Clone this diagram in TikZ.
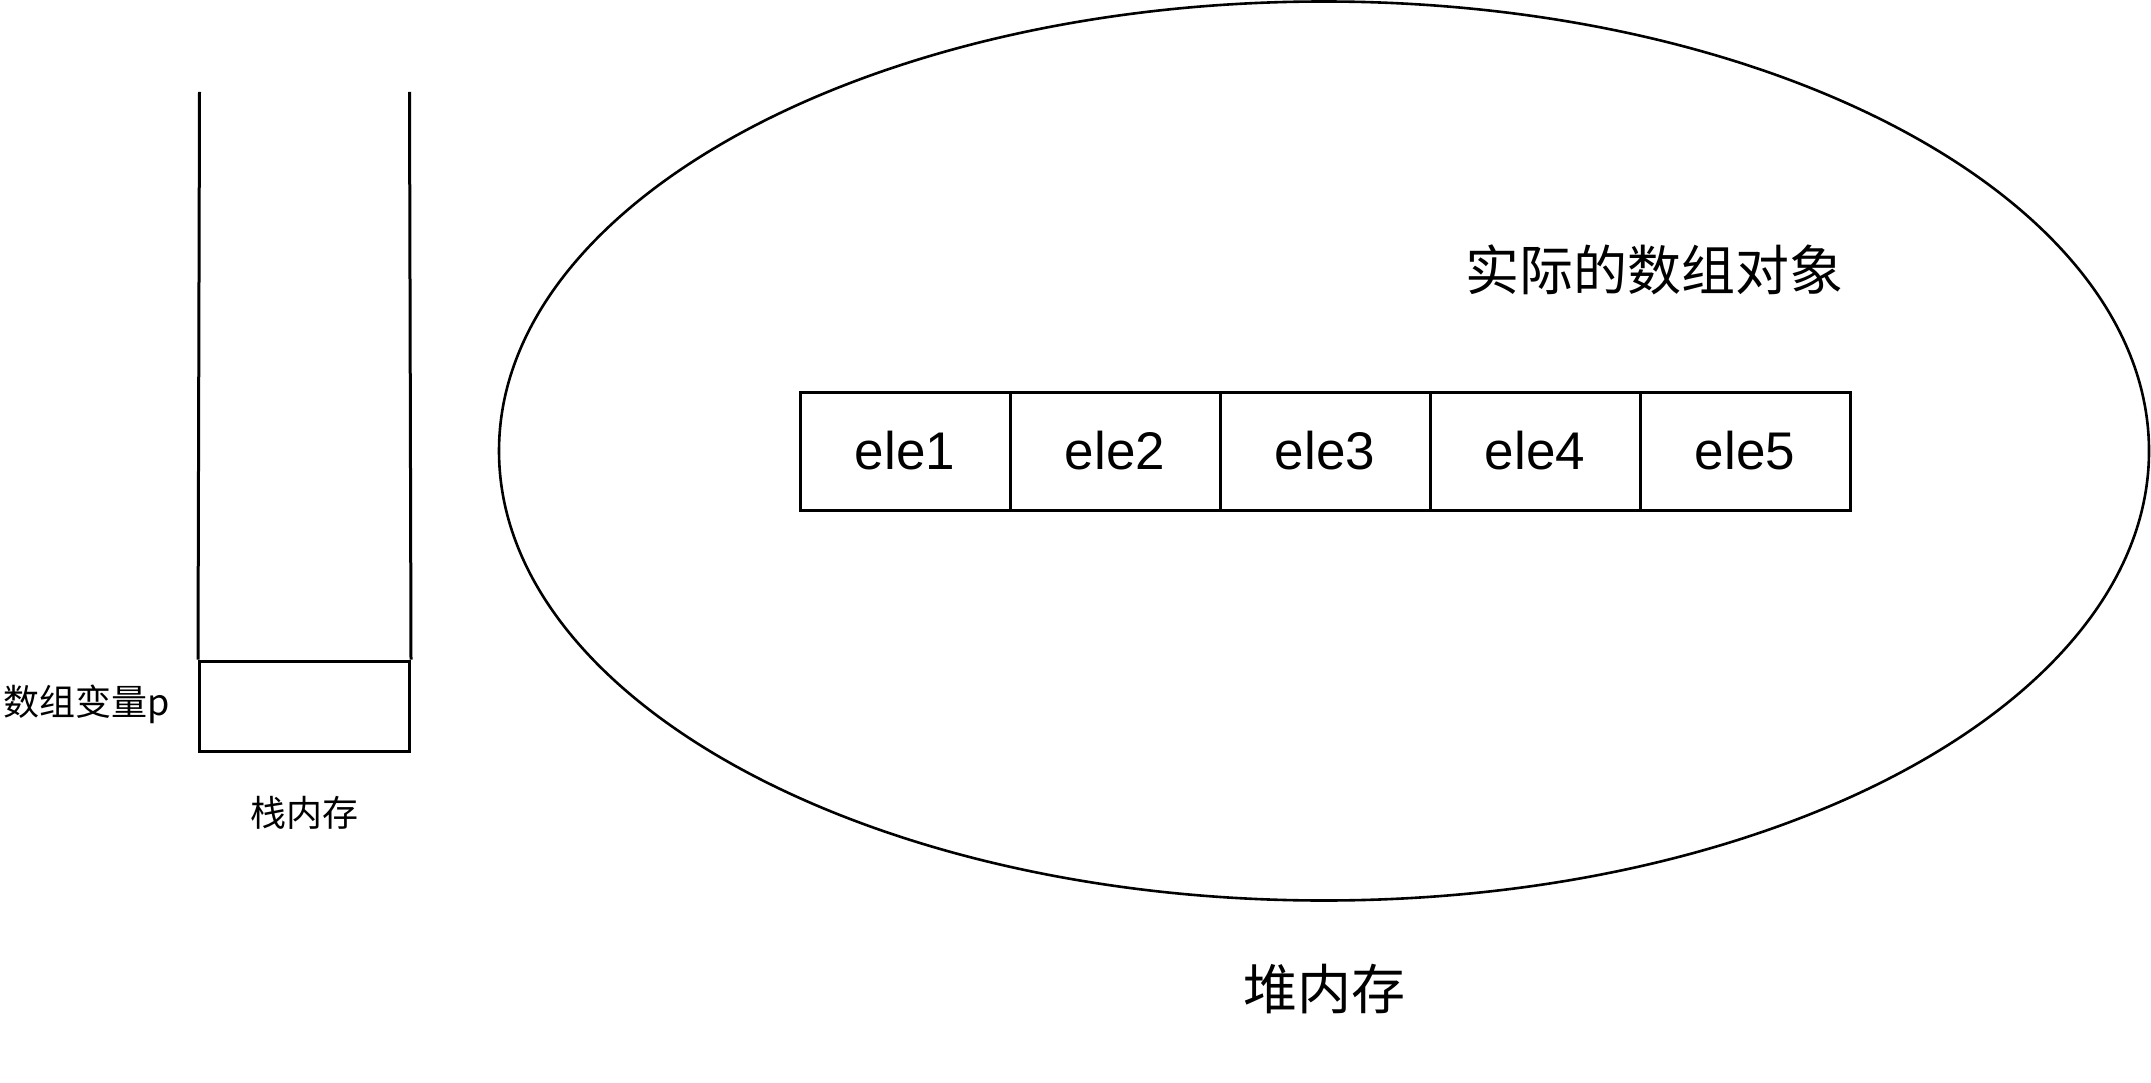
\documentclass[tikz,border=0pt]{standalone}
\usepackage{fontspec}
\setmainfont{Liberation Sans}
\newfontfamily\cjk{Noto Sans CJK SC}
\usetikzlibrary{shapes.geometric}
\begin{document}
\begin{tikzpicture}[x=1pt,y=-1pt,
  line width=3pt,
  cell/.style={draw, rectangle, inner sep=0pt, minimum width=210pt, minimum height=118pt,
    font=\fontsize{53pt}{58pt}\selectfont},
  smalltxt/.style={inner sep=0pt, font=\cjk\fontsize{36pt}{40pt}\selectfont},
  bigtxt/.style={inner sep=0pt, font=\cjk\fontsize{54pt}{60pt}\selectfont}]
\path[use as bounding box] (0,0) rectangle (2151,1083);
% heap ellipse
\node[draw, ellipse, line width=2.6pt, inner sep=0pt, minimum width=1650pt, minimum height=899pt] (heap) at (1324,451) {};
% array cells
\node[cell] (e1) at (905,451) {ele1};
\node[cell] (e2) at (1115,451) {ele2};
\node[cell] (e3) at (1325,451) {ele3};
\node[cell] (e4) at (1535,451) {ele4};
\node[cell] (e5) at (1745,451) {ele5};
\node[bigtxt] (objlabel) at (1654,270) {实际的数组对象};
\node[bigtxt] (heaplabel) at (1324,989) {堆内存};
% stack
\node[draw, rectangle, inner sep=0pt, minimum width=210pt, minimum height=90pt] (pvar) at (304.5,706) {};
\coordinate (stl) at (199.5,92);
\coordinate (str) at (409.5,92);
\draw (stl) -- (pvar.north west);
\draw (str) -- (pvar.north east);
\node[smalltxt, anchor=east] (plabel) at (171,704) {数组变量p};
\node[smalltxt] (stacklabel) at (304,813) {栈内存};
\end{tikzpicture}
\end{document}
